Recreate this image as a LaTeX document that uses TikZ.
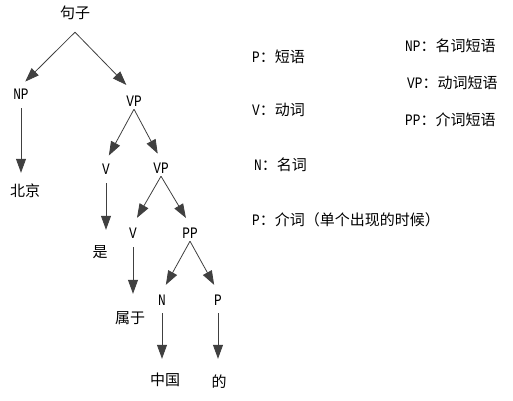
\documentclass[tikz,border=0pt]{standalone}
\usepackage{fontspec}
\newfontfamily\cjk{Noto Sans CJK SC}
\newfontfamily\lat[FakeStretch=0.8]{Liberation Mono}
\usetikzlibrary{arrows.meta}
\newcommand{\lbl}[1]{{\lat\fontsize{16}{18}\selectfont #1}}

\begin{document}
\begin{tikzpicture}[x=1pt,y=-1pt,
    cat/.style={font=\lat\fontsize{16}{18}\selectfont,inner sep=0pt,minimum height=16pt},
    word/.style={font=\cjk\fontsize{15}{18}\selectfont,inner sep=0pt,minimum height=34pt},
    note/.style={font=\cjk\fontsize{15}{18}\selectfont,inner sep=0pt,anchor=west},
    arr/.style={draw=black!75,line width=0.8pt,-{Triangle[length=14pt,width=10pt]}}]
            \useasboundingbox (0,0) rectangle (513,400);
            % tree
            \node[word,minimum height=38pt] (s) at (75,13) {句子};
            \node[cat] (np) at (21,94) {NP};
            \node[cat] (vp) at (134,101) {VP};
            \node[word] (bj) at (25,191) {北京};
            \node[cat] (v) at (106,169) {V};
            \node[cat] (vp2) at (161,168) {VP};
            \node[word] (shi) at (100,252) {是};
            \node[cat] (v2) at (133,233) {V};
            \node[cat] (pp) at (190,233) {PP};
            \node[word] (sy) at (130,318) {属于};
            \node[cat] (n) at (162,300) {N};
            \node[cat] (p) at (218,300) {P};
            \node[word] (zg) at (165,380) {中国};
            \node[word] (de) at (219,382) {的};
            \draw[arr,shorten >=6pt] (s.south) -- (np.north);
            \draw[arr,shorten >=11pt] (s.south) -- (vp.north);
            \draw[arr,shorten <=6pt,shorten >=1pt] (np.south) -- (np.south |- bj.north);
            \draw[arr,shorten >=6pt] (vp.south) -- (v.north);
            \draw[arr,shorten >=7pt] (vp.south) -- (vp2.north);
            \draw[arr,shorten <=6pt,shorten >=5pt] (v.south) -- (v.south |- shi.north);
            \draw[arr,shorten >=8pt] (vp2.south) -- (v2.north);
            \draw[arr,shorten >=8pt] (vp2.south) -- (pp.north);
            \draw[arr,shorten <=6pt,shorten >=7pt] (v2.south) -- (v2.south |- sy.north);
            \draw[arr,shorten >=8pt] (pp.south) -- (n.north);
            \draw[arr,shorten >=8pt] (pp.south) -- (p.north);
            \draw[arr,shorten <=5pt,shorten >=4pt] (n.south) -- (n.south |- zg.north);
            \draw[arr,shorten <=5pt,shorten >=6pt] (p.south) -- (p.south |- de.north);
            % legend
            \node[note] (kp) at (252,57) {\lbl{P}：短语};
            \node[note] (kv) at (252,110) {\lbl{V}：动词};
            \node[note] (kn) at (254,165) {\lbl{N}：名词};
            \node[note] (kp2) at (252,220) {\lbl{P}：介词（单个出现的时候）};
            \node[note] (knp) at (405,46) {\lbl{NP}：名词短语};
            \node[note] (kvp) at (407,83) {\lbl{VP}：动词短语};
            \node[note] (kpp) at (405,120) {\lbl{PP}：介词短语};
        \end{tikzpicture}
\end{document}
